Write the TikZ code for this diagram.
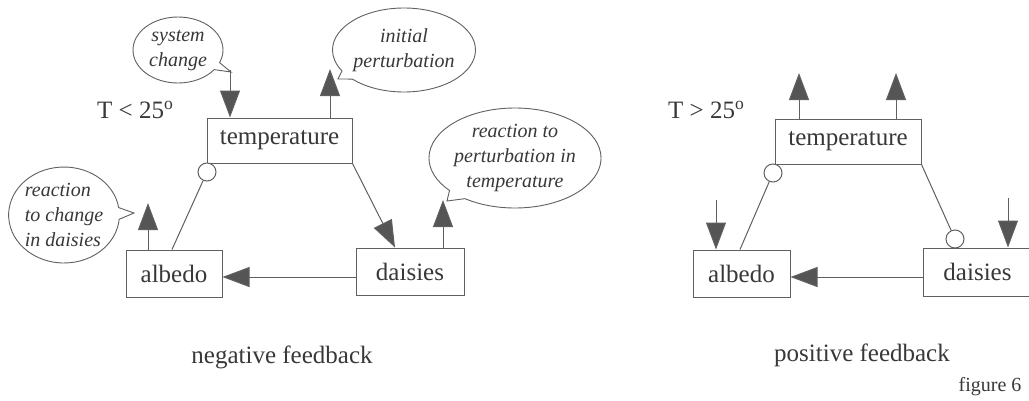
\documentclass[tikz,border=0pt]{standalone}
\usepackage{fontspec}
\setmainfont{Liberation Serif}
\usetikzlibrary{arrows.meta,shapes.callouts,shapes.geometric}
\definecolor{linec}{HTML}{606060}
\definecolor{headc}{HTML}{555555}
\definecolor{txtc}{HTML}{383838}
\tikzset{
  box/.style={draw=linec,line width=1pt,rectangle,inner sep=0pt,minimum height=47pt,text=txtc,font=\fontsize{25}{28}\selectfont},
  conn/.style={draw=linec,line width=1pt},
  arr/.style={conn,-{Triangle[length=27pt,width=20pt,fill=headc]}},
  knob/.style={circle,draw=linec,line width=1pt,fill=white,minimum size=18pt,inner sep=0pt},
  bubble/.style={ellipse callout,draw=linec,line width=0.9pt,align=center,inner sep=0pt,callout pointer arc=14,text=txtc,font=\fontsize{20}{25}\selectfont\itshape},
  lbl/.style={text=txtc,font=\fontsize{25}{28}\selectfont,inner sep=0pt},
}
\begin{document}
\begin{tikzpicture}[x=1pt,y=-1pt]
\useasboundingbox[fill=white] (0,0) rectangle (1029,400);
% ---------- left: negative feedback ----------
\node[box,minimum width=145pt,minimum height=45pt] (t1) at (279.5,140.5) {temperature};
\node[box,minimum width=96pt] (a1) at (174,273.5) {albedo};
\node[box,minimum width=108pt] (d1) at (410,271.5) {daisies};
\node[knob] (k1) at (207,172) {};
\node[lbl,anchor=west] (T1) at (97,110) {T < 25\textsuperscript{o}};
\node[lbl] (n1) at (282,357) {negative feedback};
% free ends
\coordinate (s1) at (230,70);
\coordinate (u1) at (330,69);
\coordinate (u2) at (443,200);
\coordinate (u3) at (148,203);
\coordinate (h1) at (356,277);
% connectors
\draw[conn] (a1.north) ++(-2,0) coordinate (a1k) -- (k1);
\draw[arr] (t1.south east) -- ([xshift=-15pt]d1.north);
\draw[arr] (h1) -- (h1 -| a1.east);
\draw[arr] (s1) -- (s1 |- t1.north);
\draw[arr] (u1 |- t1.north) -- (u1);
\draw[arr] (u2 |- d1.north) -- (u2);
\draw[arr] (u3 |- a1.north) -- (u3);
% bubbles
\node[bubble,minimum width=90pt,minimum height=66pt,callout absolute pointer={(231,72)}] (b1) at (178,50) {system\\change};
\node[bubble,minimum width=134pt,minimum height=84pt,callout absolute pointer={(338,79)}] (b2) at (404,50) {initial\\perturbation};
\node[bubble,minimum width=164pt,minimum height=100pt,callout absolute pointer={(447,201)}] (b3) at (515,158) {reaction to\\perturbation in\\temperature};
\node[bubble,align=left,minimum width=108pt,minimum height=96pt,callout absolute pointer={(134,213)}] (b4) at (64,215) {reaction\\to change\\in daisies};
% ---------- right: positive feedback ----------
\node[box,minimum width=146pt,minimum height=45pt] (t2) at (848,141.5) {temperature};
\node[box,minimum width=97pt] (a2) at (741.5,273.5) {albedo};
\node[box,minimum width=109pt,minimum height=48pt] (d2) at (977.5,272) {daisies};
\node[knob] (k2) at (773,173) {};
\node[knob] (k3) at (955,239) {};
\node[lbl,anchor=west] (T2) at (668,110) {T > 25\textsuperscript{o}};
\node[lbl] (n2) at (862,355) {positive feedback};
\node[text=txtc,font=\fontsize{20}{24}\selectfont,inner sep=0pt] (f6) at (990,387) {figure 6};
\coordinate (v1) at (799,73);
\coordinate (v2) at (896,73);
\coordinate (w1) at (716,200);
\coordinate (w2) at (1008,198);
\coordinate (h2) at (923,277);
\draw[conn] (a2.north) ++(-1.5,0) -- (k2);
\draw[conn] (t2.south east) -- (k3);
\draw[arr] (h2) -- (h2 -| a2.east);
\draw[arr] (v1 |- t2.north) -- (v1);
\draw[arr] (v2 |- t2.north) -- (v2);
\draw[arr] (w1) -- (w1 |- a2.north);
\draw[arr] (w2) -- (w2 |- d2.north);
\end{tikzpicture}
\end{document}
